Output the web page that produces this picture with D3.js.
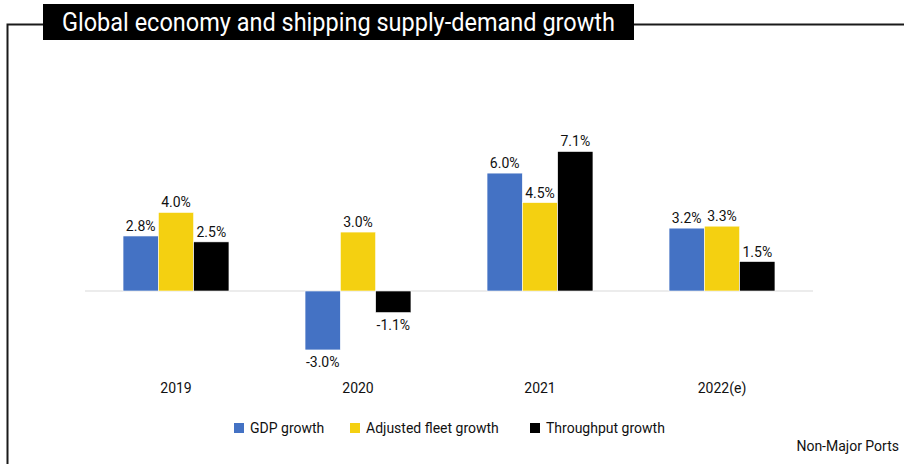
<!DOCTYPE html>
<html>
<head>
<meta charset="utf-8">
<script src="https://cdn.jsdelivr.net/npm/d3@7/dist/d3.min.js"></script>
<style>
  html, body { margin: 0; padding: 0; background: #fff; }
  svg { display: block; font-family: Roboto, "Liberation Sans", sans-serif; }
</style>
</head>
<body>
<svg id="chart" width="904" height="464"></svg>
<script>
// Chart data
const categories = ["2019", "2020", "2021", "2022(e)"];
const seriesNames = ["GDP growth", "Adjusted fleet growth", "Throughput growth"];
const gdpGrowth = [2.8, -3.0, 6.0, 3.2];
const fleetGrowth = [4.0, 3.0, 4.5, 3.3];
const throughputGrowth = [2.5, -1.1, 7.1, 1.5];
const seriesColors = ["#4472c4", "#f4d011", "#000000"];
const titleText = "Global economy and shipping supply-demand growth";
const footnote = "Non-Major Ports";

const seriesValues = [gdpGrowth, fleetGrowth, throughputGrowth];
const rows = categories.map((c, i) => ({
  category: c,
  values: seriesNames.map((s, j) => ({ series: s, value: seriesValues[j][i], idx: j }))
}));

// Percent label with a plain hyphen for negatives
const pct = v => (v < 0 ? "-" : "") + Math.abs(v).toFixed(1) + "%";

const svg = d3.select("#chart");

// Frame lines around the panel
svg.append("path")
  .attr("d", "M7.5,464 V24.5 H43 M634,24.5 H904")
  .attr("fill", "none")
  .attr("stroke", "#1a1a1a")
  .attr("stroke-width", 2);

// Title block
svg.append("rect")
  .attr("x", 43).attr("y", 4).attr("width", 591).attr("height", 36)
  .attr("fill", "#000");
svg.append("text")
  .attr("x", 62).attr("y", 31)
  .attr("fill", "#fff")
  .attr("font-size", 25)
  .attr("textLength", 553)
  .attr("lengthAdjust", "spacingAndGlyphs")
  .text(titleText);

// Scales
const x0 = d3.scaleBand()
  .domain(categories)
  .range([85, 813])
  .paddingInner(0.418)
  .paddingOuter(0.209);

const x1 = d3.scaleBand()
  .domain(seriesNames)
  .range([0, x0.bandwidth()])
  .padding(0);

const y = d3.scaleLinear()
  .domain([-3, 7.1])
  .range([291 + 3 * 19.65, 291 - 7.1 * 19.65]);

// Zero line
svg.append("line")
  .attr("x1", x0.range()[0]).attr("x2", x0.range()[1])
  .attr("y1", y(0)).attr("y2", y(0))
  .attr("stroke", "#d9d9d9")
  .attr("stroke-width", 1);

// Bars
const groups = svg.append("g").selectAll("g")
  .data(rows)
  .join("g")
  .attr("transform", d => `translate(${x0(d.category)},0)`);

groups.selectAll("rect")
  .data(d => d.values)
  .join("rect")
  .attr("x", d => x1(d.series))
  .attr("y", d => y(Math.max(0, d.value)))
  .attr("width", x1.bandwidth())
  .attr("height", d => Math.abs(y(d.value) - y(0)))
  .attr("fill", d => seriesColors[d.idx])
  .attr("stroke", "#ffffff")
  .attr("stroke-width", 0.6);

// Value labels
groups.selectAll("text")
  .data(d => d.values)
  .join("text")
  .attr("x", d => x1(d.series) + x1.bandwidth() / 2)
  .attr("y", d => d.value >= 0 ? y(d.value) - 5 : y(d.value) + 17)
  .attr("text-anchor", "middle")
  .attr("font-size", 14)
  .attr("fill", "#111")
  .text(d => pct(d.value));

// Category axis labels
const xAxis = d3.axisBottom(x0).tickSize(0).tickPadding(0);
const axisG = svg.append("g")
  .attr("transform", "translate(0,383)")
  .call(xAxis);
axisG.select(".domain").remove();
axisG.selectAll("text")
  .attr("font-family", "Roboto, sans-serif")
  .attr("font-size", 14)
  .attr("fill", "#111");

// Legend
const legendX = [234, 350, 530];
const legend = svg.append("g").selectAll("g")
  .data(seriesNames)
  .join("g")
  .attr("transform", (d, i) => `translate(${legendX[i]},428)`);
legend.append("rect")
  .attr("x", 0).attr("y", -5)
  .attr("width", 10).attr("height", 10)
  .attr("fill", (d, i) => seriesColors[i]);
legend.append("text")
  .attr("x", 16).attr("y", 5)
  .attr("font-size", 14)
  .attr("fill", "#111")
  .text(d => d);

// Footnote
svg.append("text")
  .attr("x", 899).attr("y", 451)
  .attr("text-anchor", "end")
  .attr("font-size", 14)
  .attr("fill", "#111")
  .text(footnote);
</script>
</body>
</html>
